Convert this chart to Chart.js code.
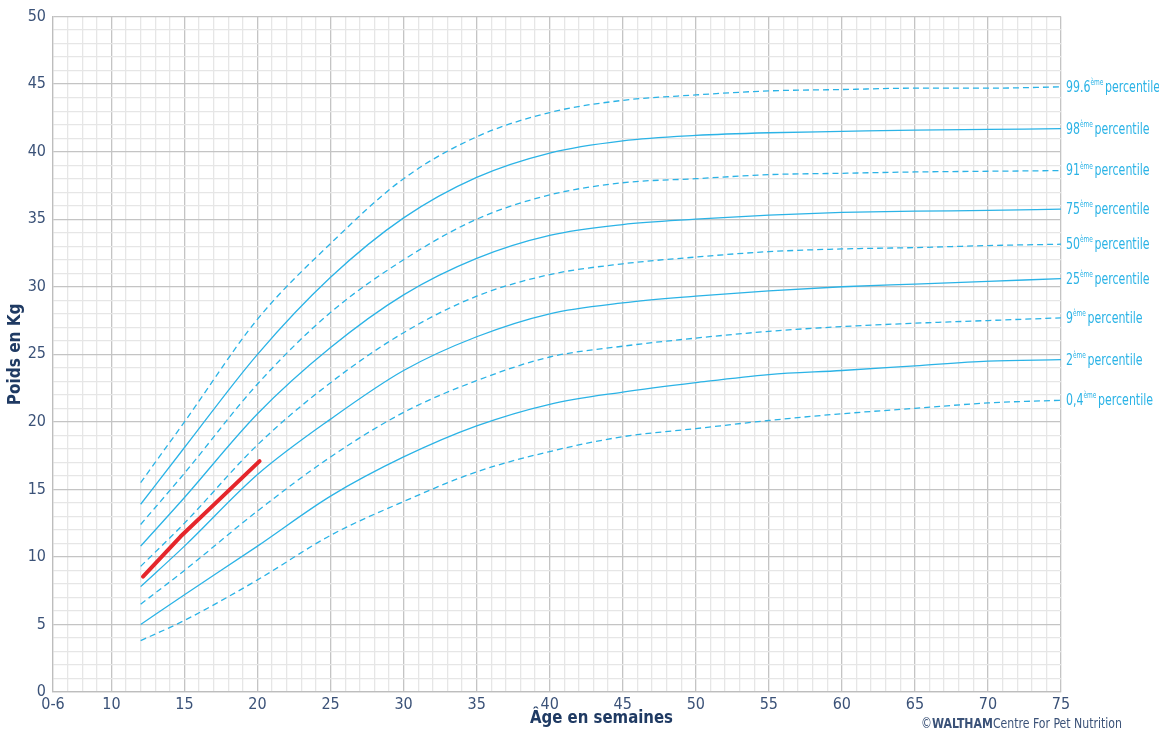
<!DOCTYPE html>
<html>
<head>
<meta charset="utf-8">
<script src="https://cdn.jsdelivr.net/npm/chart.js@4/dist/chart.umd.min.js"></script>
<style>
  html, body { margin: 0; padding: 0; background: #fff; }
</style>
</head>
<body>
<canvas id="chartCanvas" width="1159" height="731"></canvas>
<script>
// ============================================
// DATA
// ============================================

const weeks = [12, 15, 20, 25, 30, 35, 40, 45, 50, 55, 60, 65, 70, 75];

const p996 = [15.5, 20.0, 27.6, 33.2, 38.0, 41.1, 42.9, 43.8, 44.2, 44.5, 44.6, 44.7, 44.7, 44.8];
const p98  = [13.9, 18.1, 25.0, 30.7, 35.1, 38.1, 39.9, 40.8, 41.2, 41.4, 41.5, 41.6, 41.65, 41.7];
const p91  = [12.4, 16.2, 22.8, 28.1, 32.0, 35.0, 36.8, 37.7, 38.0, 38.3, 38.4, 38.5, 38.55, 38.6];
const p75  = [10.8, 14.4, 20.6, 25.5, 29.4, 32.1, 33.8, 34.6, 35.0, 35.3, 35.5, 35.6, 35.65, 35.75];
const p50  = [9.3, 12.5, 18.3, 22.9, 26.6, 29.3, 30.9, 31.7, 32.2, 32.6, 32.8, 32.9, 33.05, 33.15];
const p25  = [7.8, 10.8, 16.1, 20.2, 23.8, 26.3, 28.0, 28.8, 29.3, 29.7, 30.0, 30.2, 30.4, 30.6];
const p9   = [6.5, 9.0, 13.4, 17.4, 20.7, 23.05, 24.8, 25.6, 26.2, 26.7, 27.05, 27.3, 27.5, 27.7];
const p2   = [5.0, 7.2, 10.8, 14.5, 17.4, 19.7, 21.3, 22.2, 22.9, 23.5, 23.8, 24.15, 24.5, 24.6];
const p04  = [3.8, 5.3, 8.3, 11.6, 14.1, 16.3, 17.8, 18.9, 19.5, 20.1, 20.6, 21.0, 21.4, 21.6];

const percentileNames = ['99.6', '98', '91', '75', '50', '25', '9', '2', '0,4'];
const percentileSeries = [p996, p98, p91, p75, p50, p25, p9, p2, p04];
const percentileDashed = [true, false, true, false, true, false, true, false, true];

// puppy's own weighings
const dogWeeks   = [12.16, 14.73, 17.0, 20.14];
const dogWeights = [8.55, 11.51, 13.85, 17.09];

const xMin = 6, xMax = 75;
const yMin = 0, yMax = 50;

const BLUE = '#2bb3e6';
const RED = '#e5262b';
const NAVY = '#3b5278';
const TITLE_NAVY = '#1f3a63';
const FONT = '"Liberation Sans Narrow", "DejaVu Sans Condensed", "Roboto", sans-serif';

// ============================================
// CHART
// ============================================

function toPoints(xs, ys) {
    return xs.map(function(x, i) { return { x: x, y: ys[i] }; });
}

const datasets = percentileSeries.map(function(series, i) {
    return {
        label: percentileNames[i],
        data: toPoints(weeks, series),
        borderColor: BLUE,
        borderWidth: 1.3,
        borderDash: percentileDashed[i] ? [6, 4] : [],
        pointRadius: 0,
        cubicInterpolationMode: 'monotone',
        fill: false
    };
});

datasets.push({
    label: 'chiot',
    data: toPoints(dogWeeks, dogWeights),
    borderColor: RED,
    borderWidth: 4,
    borderCapStyle: 'round',
    borderJoinStyle: 'round',
    pointRadius: 0,
    tension: 0,
    fill: false
});

// draw a run of [text, font, dy, gap] pieces squeezed horizontally by sx
function drawPieces(ctx, x, y, pieces, sx) {
    ctx.save();
    ctx.translate(x, y);
    ctx.scale(sx, 1);
    let cx = 0;
    for (let i = 0; i < pieces.length; i++) {
        ctx.font = pieces[i][1];
        ctx.fillText(pieces[i][0], cx, pieces[i][2]);
        cx += ctx.measureText(pieces[i][0]).width + (pieces[i][3] || 0);
    }
    ctx.restore();
}

// right-hand labels, x-axis title (sits right of centre) and credit line
const chartTexts = {
    id: 'chartTexts',
    afterDraw: function(chart) {
        const ctx = chart.ctx;
        const yScale = chart.scales.y;
        const area = chart.chartArea;

        ctx.save();
        ctx.textBaseline = 'middle';
        ctx.fillStyle = BLUE;
        ctx.font = '15px ' + FONT;
        const sx = 55 / ctx.measureText('percentile').width;
        for (let i = 0; i < percentileSeries.length; i++) {
            const series = percentileSeries[i];
            const y = yScale.getPixelForValue(series[series.length - 1]) + 1;
            drawPieces(ctx, area.right + 5, y, [
                [percentileNames[i], '15px ' + FONT, 0],
                ['ème', '8px ' + FONT, -5, 2],
                ['percentile', '15px ' + FONT, 0]
            ], sx);
        }

        // x-axis title
        ctx.fillStyle = TITLE_NAVY;
        ctx.font = 'bold 18px ' + FONT;
        const tw = ctx.measureText('Âge en semaines').width;
        drawPieces(ctx, 530, 718, [['Âge en semaines', 'bold 18px ' + FONT, 0]], 143 / tw);

        // credit
        ctx.fillStyle = NAVY;
        ctx.font = '14px ' + FONT;
        let cw = ctx.measureText('©Centre For Pet Nutrition').width;
        ctx.font = 'bold 14px ' + FONT;
        cw += ctx.measureText('WALTHAM').width;
        drawPieces(ctx, 921, 724, [
            ['©', '14px ' + FONT, 0],
            ['WALTHAM', 'bold 14px ' + FONT, 0],
            ['Centre For Pet Nutrition', '14px ' + FONT, 0]
        ], 201 / cw);
        ctx.restore();
    }
};

function gridColor(c) {
    return c.tick && c.tick.value % 5 === 0 ? '#c4c4c4' : '#e6e6e6';
}

const canvas = document.getElementById('chartCanvas');
const ctx = canvas.getContext('2d');

new Chart(ctx, {
    type: 'line',
    data: { datasets: datasets },
    plugins: [chartTexts],
    options: {
        responsive: false,
        animation: false,
        layout: { padding: { top: 15, right: 98, bottom: 0, left: 0 } },
        plugins: {
            legend: { display: false },
            tooltip: { enabled: false }
        },
        scales: {
            x: {
                type: 'linear',
                min: xMin,
                max: xMax,
                afterBuildTicks: function(axis) {
                    const ticks = [];
                    for (let v = xMin; v <= xMax; v++) ticks.push({ value: v });
                    axis.ticks = ticks;
                },
                afterFit: function(scale) { scale.height = 39; },
                ticks: {
                    autoSkip: false,
                    maxRotation: 0,
                    padding: 3,
                    color: NAVY,
                    font: { family: FONT, size: 16 },
                    callback: function(value) {
                        if (value === xMin) return '0-6';
                        return value % 5 === 0 ? String(value) : '';
                    }
                },
                grid: {
                    drawTicks: false,
                    color: gridColor,
                    lineWidth: 1.3
                },
                border: { color: '#bdbdbd', width: 1.3 }
            },
            y: {
                min: yMin,
                max: yMax,
                afterFit: function(scale) { scale.width = 53; },
                ticks: {
                    stepSize: 1,
                    autoSkip: false,
                    padding: 7,
                    color: NAVY,
                    font: { family: FONT, size: 16 },
                    callback: function(value) {
                        return value % 5 === 0 ? String(value) : '';
                    }
                },
                grid: {
                    drawTicks: false,
                    color: gridColor,
                    lineWidth: 1.3
                },
                border: { color: '#bdbdbd', width: 1.3 },
                title: {
                    display: true,
                    text: 'Poids en Kg',
                    color: TITLE_NAVY,
                    font: { family: FONT, size: 17, weight: 'bold' },
                    padding: { top: 5, bottom: 0 }
                }
            }
        }
    }
});
</script>
</body>
</html>
